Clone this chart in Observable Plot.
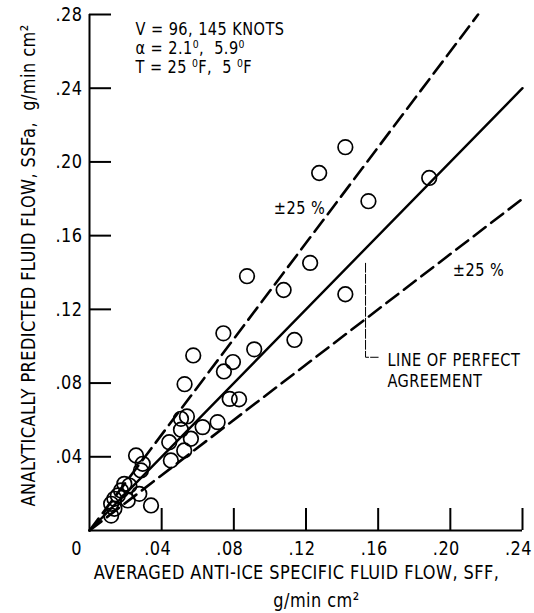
<!DOCTYPE html>
<html>
<head>
<meta charset="utf-8">
<script src="https://cdn.jsdelivr.net/npm/d3@7"></script>
<script src="https://cdn.jsdelivr.net/npm/@observablehq/plot@0.6"></script>
<style>
  html, body { margin: 0; padding: 0; background: #fff; }
  #chart svg { display: block; }
</style>
</head>
<body>
<div id="chart"></div>
<script>
// Averaged anti-ice specific fluid flow, SFF (x) and analytically predicted flow, SSFa (y)
const sff = [0.1418, 0.1273, 0.1883, 0.1546, 0.1223, 0.0873, 0.1076, 0.1418, 0.0742, 0.1136,
             0.0575, 0.0913, 0.0795, 0.0745, 0.0527, 0.0777, 0.0829, 0.0507, 0.0540, 0.0507,
             0.0627, 0.0710, 0.0562, 0.0442, 0.0525, 0.0451, 0.0258, 0.0295, 0.0285, 0.0193,
             0.0221, 0.0175, 0.0157, 0.0138, 0.0120, 0.0276, 0.0212, 0.0341, 0.0138, 0.0120];
const ssfa = [0.2080, 0.1940, 0.1913, 0.1787, 0.1452, 0.1380, 0.1305, 0.1282, 0.1070, 0.1034,
              0.0950, 0.0983, 0.0914, 0.0863, 0.0794, 0.0714, 0.0712, 0.0606, 0.0619, 0.0547,
              0.0561, 0.0588, 0.0498, 0.0479, 0.0434, 0.0380, 0.0407, 0.0362, 0.0326, 0.0253,
              0.0244, 0.0217, 0.0190, 0.0172, 0.0145, 0.0199, 0.0163, 0.0136, 0.0118, 0.0081];

// Reference lines: slope of perfect agreement and the drawn ±25 % band lines
const lineNames = ["perfect", "upper", "lower"];
const lineSlopes = [1.0, 1.3, 0.75];

// Leader from the perfect-agreement line to its label (x, y in data units)
const leaderX = [0.153, 0.153, 0.160];
const leaderY = [0.145, 0.094, 0.094];

// Axes
const xDomain = [0, 0.24];
const yDomain = [0, 0.28];
const xTicks = [0.04, 0.08, 0.12, 0.16, 0.20, 0.24];
const xTickLabels = [".04", ".08", ".12", ".16", ".20", ".24"];
const yTicks = [0.04, 0.08, 0.12, 0.16, 0.20, 0.24, 0.28];
const yTickLabels = [".04", ".08", ".12", ".16", ".20", ".24", ".28"];
const originLabel = "0";

// Texts
const xTitle = ["AVERAGED ANTI-ICE SPECIFIC FLUID FLOW, SFF,", "g/min cm²"];
const yTitle = "ANALYTICALLY PREDICTED FLUID FLOW, SSFa,  g/min cm²";
const conditions = ["V = 96, 145 KNOTS", "α = 2.1⁰,  5.9⁰", "T = 25 ⁰F,  5 ⁰F"];
const bandLabel = "±25 %";
const perfectLabel = ["LINE OF PERFECT", "AGREEMENT"];

// Build tables
const points = sff.map((x, i) => ({x, y: ssfa[i]}));
const refLines = lineNames.map((name, i) => {
  const k = lineSlopes[i];
  const xEnd = Math.min(xDomain[1], yDomain[1] / k);
  return [{name, x: 0, y: 0}, {name, x: xEnd, y: k * xEnd}];
});
const leader = leaderX.map((x, i) => ({x, y: leaderY[i]}));

const font = "'DejaVu Sans', sans-serif";

const chart = Plot.plot({
  width: 534,
  height: 613,
  marginLeft: 89,
  marginRight: 12,
  marginTop: 14,
  marginBottom: 83,
  x: {domain: xDomain},
  y: {domain: yDomain},
  style: {fontFamily: font, fontSize: "20px", color: "black", background: "white", fontStretch: "condensed", letterSpacing: "0.5px"},
  marks: [
    // axis lines
    Plot.ruleX([0], {stroke: "black", strokeWidth: 2}),
    Plot.ruleY([0], {stroke: "black", strokeWidth: 2}),
    // inward ticks + labels
    Plot.axisY(yTicks, {anchor: "left", tickSize: -22, tickPadding: 29, strokeWidth: 2,
      tickFormat: d => yTickLabels[yTicks.indexOf(d)], label: null}),
    Plot.axisX(xTicks, {anchor: "bottom", tickSize: -22, tickPadding: 32, strokeWidth: 2,
      tickFormat: d => xTickLabels[xTicks.indexOf(d)], label: null}),
    Plot.axisX([0], {anchor: "bottom", tickSize: 0, tickPadding: 10, dx: -9,
      tickFormat: () => originLabel, label: null}),
    // reference lines
    Plot.line(refLines[0], {x: "x", y: "y", stroke: "black", strokeWidth: 2.4}),
    Plot.line(refLines[1], {x: "x", y: "y", stroke: "black", strokeWidth: 2.6, strokeDasharray: "15,7"}),
    Plot.line(refLines[2], {x: "x", y: "y", stroke: "black", strokeWidth: 2.6, strokeDasharray: "15,7"}),
    Plot.line(leader, {x: "x", y: "y", stroke: "black", strokeWidth: 1, strokeDasharray: "9,2"}),
    // data points
    Plot.dot(points, {x: "x", y: "y", r: 7.3, stroke: "black", strokeWidth: 1.7, fill: "none"}),
    // titles
    Plot.text([yTitle], {text: d => d, ariaLabel: "y-title", frameAnchor: "left", textAnchor: "middle",
      lineAnchor: "middle", rotate: -90, dx: -61, dy: -7, fontSize: 20}),
    Plot.text([xTitle[0]], {text: d => d, ariaLabel: "x-title", frameAnchor: "bottom", textAnchor: "middle",
      lineAnchor: "middle", dx: -9.5, dy: 42, fontSize: 20}),
    Plot.text([xTitle[1]], {text: d => d, frameAnchor: "bottom", textAnchor: "middle",
      lineAnchor: "middle", dx: 10.5, dy: 70, fontSize: 20}),
    // annotations
    Plot.text([conditions.join("\n")], {text: d => d, frameAnchor: "top-left", textAnchor: "start",
      lineAnchor: "middle", lineHeight: 1.055, dx: 46, dy: 33, fontSize: 18}),
    Plot.text([bandLabel], {text: d => d, frameAnchor: "top-left", textAnchor: "middle",
      lineAnchor: "middle", dx: 210, dy: 194, fontSize: 18}),
    Plot.text([bandLabel], {text: d => d, frameAnchor: "top-left", textAnchor: "middle",
      lineAnchor: "middle", dx: 389, dy: 256, fontSize: 18}),
    Plot.text([perfectLabel.join("\n")], {text: d => d, frameAnchor: "top-left", textAnchor: "start",
      lineAnchor: "middle", lineHeight: 1.17, dx: 298, dy: 355.5, fontSize: 18})
  ]
});
document.getElementById("chart").appendChild(chart);

// Narrow the lettering horizontally to match the condensed lettering of the original.
function squeeze(t, f, shift = 0) {
  const tr = t.getAttribute("transform") || "";
  t.setAttribute("transform", `${tr}${shift ? ` translate(${shift},0)` : ""} scale(${f},1)`);
}
const xt = chart.querySelector('g[aria-label="x-title"] text');
const yt = chart.querySelector('g[aria-label="y-title"] text');
const xTickTexts = new Set(chart.querySelectorAll('g[aria-label="x-axis tick label"] text'));
const fX = xt ? 432 / xt.getBBox().width : 0.88;
const fY = yt ? 568 / yt.getBBox().width : fX;
chart.querySelectorAll("text").forEach(t => {
  if (t === yt) squeeze(t, fY);
  else if (t === xt) squeeze(t, fX);
  else squeeze(t, fX * 1.02, xTickTexts.has(t) ? -4 : 0);
});
</script>
</body>
</html>
